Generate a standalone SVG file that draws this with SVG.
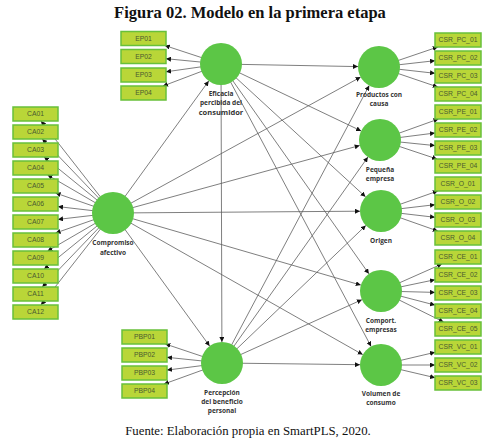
<svg xmlns="http://www.w3.org/2000/svg" width="496" height="447" viewBox="0 0 496 447">
<style>
.bx{fill:#b9d638;stroke:#68c03a;stroke-width:1.5}
.bt{font-family:"Liberation Sans",Arial,sans-serif;font-size:6.8px;fill:#4a5a30;text-anchor:middle}
.cr{fill:#5cc646}
.lb{font-family:"Open Sans","Liberation Sans",sans-serif;font-size:6.5px;font-weight:bold;fill:#333;text-anchor:middle}
.ln{stroke:#5e5e5e;stroke-width:0.8;fill:none;marker-end:url(#ah)}
.ttl{font-family:"Liberation Serif","Times New Roman",serif;font-weight:bold;font-size:16.5px;text-anchor:middle;fill:#111}
.ft{font-family:"Liberation Serif","Times New Roman",serif;font-size:12.8px;text-anchor:middle;fill:#111}
</style>
<defs>
<marker id="ah" viewBox="0 0 10 10" refX="10" refY="5" markerWidth="5" markerHeight="5" orient="auto" markerUnits="userSpaceOnUse">
<path d="M0,0L10,5L0,10z" fill="#111"/>
</marker>
</defs>
<rect width="496" height="447" fill="#fff"/>
<text class="ttl" x="250" y="18">Figura 02. Modelo en la primera etapa</text>
<g id="connectors">
<line class="ln" x1="113" y1="213" x2="208.7" y2="81"/>
<line class="ln" x1="113" y1="213" x2="360.6" y2="77.1"/>
<line class="ln" x1="113" y1="213" x2="359.7" y2="145.5"/>
<line class="ln" x1="113" y1="213" x2="360" y2="211.2"/>
<line class="ln" x1="113" y1="213" x2="360.8" y2="285.1"/>
<line class="ln" x1="113" y1="213" x2="362.7" y2="354.6"/>
<line class="ln" x1="113" y1="213" x2="209.6" y2="346"/>
<line class="ln" x1="221" y1="64" x2="358" y2="66.6"/>
<line class="ln" x1="221" y1="64" x2="361.1" y2="130.9"/>
<line class="ln" x1="221" y1="64" x2="365.5" y2="196.8"/>
<line class="ln" x1="221" y1="64" x2="368.9" y2="273.8"/>
<line class="ln" x1="221" y1="64" x2="371.1" y2="346.5"/>
<line class="ln" x1="221" y1="64" x2="221.9" y2="342"/>
<line class="ln" x1="222" y1="363" x2="369.2" y2="85.5"/>
<line class="ln" x1="222" y1="363" x2="367.9" y2="157.1"/>
<line class="ln" x1="222" y1="363" x2="365.8" y2="225.5"/>
<line class="ln" x1="222" y1="363" x2="361.9" y2="299.7"/>
<line class="ln" x1="222" y1="363" x2="360" y2="364.7"/>
<line class="ln" x1="221" y1="64" x2="164.8" y2="45.5"/>
<line class="ln" x1="221" y1="64" x2="166" y2="58.7"/>
<line class="ln" x1="221" y1="64" x2="166" y2="71.8"/>
<line class="ln" x1="221" y1="64" x2="163" y2="86"/>
<line class="ln" x1="113" y1="213" x2="41" y2="121"/>
<line class="ln" x1="113" y1="213" x2="42.2" y2="139"/>
<line class="ln" x1="113" y1="213" x2="44.1" y2="157"/>
<line class="ln" x1="113" y1="213" x2="47.6" y2="175"/>
<line class="ln" x1="113" y1="213" x2="55.6" y2="193"/>
<line class="ln" x1="113" y1="213" x2="58" y2="206.6"/>
<line class="ln" x1="113" y1="213" x2="58" y2="219.4"/>
<line class="ln" x1="113" y1="213" x2="55.6" y2="233"/>
<line class="ln" x1="113" y1="213" x2="47.6" y2="251"/>
<line class="ln" x1="113" y1="213" x2="44.1" y2="269"/>
<line class="ln" x1="113" y1="213" x2="42.2" y2="287"/>
<line class="ln" x1="113" y1="213" x2="41" y2="305"/>
<line class="ln" x1="222" y1="363" x2="165.4" y2="344"/>
<line class="ln" x1="222" y1="363" x2="167" y2="357.3"/>
<line class="ln" x1="222" y1="363" x2="167" y2="370.1"/>
<line class="ln" x1="222" y1="363" x2="164" y2="384"/>
<line class="ln" x1="379" y1="67" x2="437.8" y2="47"/>
<line class="ln" x1="379" y1="67" x2="435" y2="60.7"/>
<line class="ln" x1="379" y1="67" x2="435" y2="73.3"/>
<line class="ln" x1="379" y1="67" x2="437.8" y2="87"/>
<line class="ln" x1="380" y1="140" x2="438.5" y2="119"/>
<line class="ln" x1="380" y1="140" x2="435" y2="133"/>
<line class="ln" x1="380" y1="140" x2="435" y2="145.6"/>
<line class="ln" x1="380" y1="140" x2="437" y2="159"/>
<line class="ln" x1="381" y1="211" x2="437.8" y2="191"/>
<line class="ln" x1="381" y1="211" x2="435" y2="204.7"/>
<line class="ln" x1="381" y1="211" x2="435" y2="217.3"/>
<line class="ln" x1="381" y1="211" x2="437.8" y2="231"/>
<line class="ln" x1="381" y1="291" x2="441.9" y2="264"/>
<line class="ln" x1="381" y1="291" x2="435" y2="279.7"/>
<line class="ln" x1="381" y1="291" x2="435" y2="292.4"/>
<line class="ln" x1="381" y1="291" x2="435" y2="305.1"/>
<line class="ln" x1="381" y1="291" x2="443.6" y2="322"/>
<line class="ln" x1="381" y1="365" x2="435" y2="352.3"/>
<line class="ln" x1="381" y1="365" x2="435" y2="365"/>
<line class="ln" x1="381" y1="365" x2="435" y2="377.7"/>
</g>
<g id="EP01"><rect class="bx" x="121" y="31.5" width="45" height="14"/><text class="bt" x="143.5" y="40.9">EP01</text></g>
<g id="EP02"><rect class="bx" x="121" y="49.5" width="45" height="14"/><text class="bt" x="143.5" y="58.9">EP02</text></g>
<g id="EP03"><rect class="bx" x="121" y="68" width="45" height="14"/><text class="bt" x="143.5" y="77.4">EP03</text></g>
<g id="EP04"><rect class="bx" x="121" y="86" width="45" height="14"/><text class="bt" x="143.5" y="95.4">EP04</text></g>
<g id="CA01"><rect class="bx" x="13" y="107" width="45" height="14"/><text class="bt" x="35.5" y="116.4">CA01</text></g>
<g id="CA02"><rect class="bx" x="13" y="125" width="45" height="14"/><text class="bt" x="35.5" y="134.4">CA02</text></g>
<g id="CA03"><rect class="bx" x="13" y="143" width="45" height="14"/><text class="bt" x="35.5" y="152.4">CA03</text></g>
<g id="CA04"><rect class="bx" x="13" y="161" width="45" height="14"/><text class="bt" x="35.5" y="170.4">CA04</text></g>
<g id="CA05"><rect class="bx" x="13" y="179" width="45" height="14"/><text class="bt" x="35.5" y="188.4">CA05</text></g>
<g id="CA06"><rect class="bx" x="13" y="197" width="45" height="14"/><text class="bt" x="35.5" y="206.4">CA06</text></g>
<g id="CA07"><rect class="bx" x="13" y="215" width="45" height="14"/><text class="bt" x="35.5" y="224.4">CA07</text></g>
<g id="CA08"><rect class="bx" x="13" y="233" width="45" height="14"/><text class="bt" x="35.5" y="242.4">CA08</text></g>
<g id="CA09"><rect class="bx" x="13" y="251" width="45" height="14"/><text class="bt" x="35.5" y="260.4">CA09</text></g>
<g id="CA10"><rect class="bx" x="13" y="269" width="45" height="14"/><text class="bt" x="35.5" y="278.4">CA10</text></g>
<g id="CA11"><rect class="bx" x="13" y="287" width="45" height="14"/><text class="bt" x="35.5" y="296.4">CA11</text></g>
<g id="CA12"><rect class="bx" x="13" y="305" width="45" height="14"/><text class="bt" x="35.5" y="314.4">CA12</text></g>
<g id="PBP01"><rect class="bx" x="122" y="330" width="45" height="14"/><text class="bt" x="144.5" y="339.4">PBP01</text></g>
<g id="PBP02"><rect class="bx" x="122" y="348" width="45" height="14"/><text class="bt" x="144.5" y="357.4">PBP02</text></g>
<g id="PBP03"><rect class="bx" x="122" y="366" width="45" height="14"/><text class="bt" x="144.5" y="375.4">PBP03</text></g>
<g id="PBP04"><rect class="bx" x="122" y="384" width="45" height="14"/><text class="bt" x="144.5" y="393.4">PBP04</text></g>
<g id="CSR_PC_01"><rect class="bx" x="435" y="33" width="46" height="14"/><text class="bt" x="458" y="42.4">CSR_PC_01</text></g>
<g id="CSR_PC_02"><rect class="bx" x="435" y="51" width="46" height="14"/><text class="bt" x="458" y="60.4">CSR_PC_02</text></g>
<g id="CSR_PC_03"><rect class="bx" x="435" y="69" width="46" height="14"/><text class="bt" x="458" y="78.4">CSR_PC_03</text></g>
<g id="CSR_PC_04"><rect class="bx" x="435" y="87" width="46" height="14"/><text class="bt" x="458" y="96.4">CSR_PC_04</text></g>
<g id="CSR_PE_01"><rect class="bx" x="435" y="105" width="46" height="14"/><text class="bt" x="458" y="114.4">CSR_PE_01</text></g>
<g id="CSR_PE_02"><rect class="bx" x="435" y="123" width="46" height="14"/><text class="bt" x="458" y="132.4">CSR_PE_02</text></g>
<g id="CSR_PE_03"><rect class="bx" x="435" y="141" width="46" height="14"/><text class="bt" x="458" y="150.4">CSR_PE_03</text></g>
<g id="CSR_PE_04"><rect class="bx" x="435" y="159" width="46" height="14"/><text class="bt" x="458" y="168.4">CSR_PE_04</text></g>
<g id="CSR_O_01"><rect class="bx" x="435" y="177" width="46" height="14"/><text class="bt" x="458" y="186.4">CSR_O_01</text></g>
<g id="CSR_O_02"><rect class="bx" x="435" y="195" width="46" height="14"/><text class="bt" x="458" y="204.4">CSR_O_02</text></g>
<g id="CSR_O_03"><rect class="bx" x="435" y="213" width="46" height="14"/><text class="bt" x="458" y="222.4">CSR_O_03</text></g>
<g id="CSR_O_04"><rect class="bx" x="435" y="231" width="46" height="14"/><text class="bt" x="458" y="240.4">CSR_O_04</text></g>
<g id="CSR_CE_01"><rect class="bx" x="435" y="250" width="46" height="14"/><text class="bt" x="458" y="259.4">CSR_CE_01</text></g>
<g id="CSR_CE_02"><rect class="bx" x="435" y="268" width="46" height="14"/><text class="bt" x="458" y="277.4">CSR_CE_02</text></g>
<g id="CSR_CE_03"><rect class="bx" x="435" y="286" width="46" height="14"/><text class="bt" x="458" y="295.4">CSR_CE_03</text></g>
<g id="CSR_CE_04"><rect class="bx" x="435" y="304" width="46" height="14"/><text class="bt" x="458" y="313.4">CSR_CE_04</text></g>
<g id="CSR_CE_05"><rect class="bx" x="435" y="322" width="46" height="14"/><text class="bt" x="458" y="331.4">CSR_CE_05</text></g>
<g id="CSR_VC_01"><rect class="bx" x="435" y="340" width="46" height="14"/><text class="bt" x="458" y="349.4">CSR_VC_01</text></g>
<g id="CSR_VC_02"><rect class="bx" x="435" y="358" width="46" height="14"/><text class="bt" x="458" y="367.4">CSR_VC_02</text></g>
<g id="CSR_VC_03"><rect class="bx" x="435" y="376" width="46" height="14"/><text class="bt" x="458" y="385.4">CSR_VC_03</text></g>
<g id="eficacia"><circle class="cr" cx="221" cy="64" r="21"/><text class="lb" x="221" y="96">Eficacia</text><text class="lb" x="221" y="105">percibida del</text><text class="lb" x="221" y="115" style="font-size:7.5px">consumidor</text></g>
<g id="compromiso"><circle class="cr" cx="113" cy="213" r="21"/><text class="lb" x="113" y="245">Compromiso</text><text class="lb" x="113" y="255">afectivo</text></g>
<g id="percepcion"><circle class="cr" cx="222" cy="363" r="21"/><text class="lb" x="222" y="395">Percepción</text><text class="lb" x="222" y="404">del beneficio</text><text class="lb" x="222" y="413">personal</text></g>
<g id="productos"><circle class="cr" cx="379" cy="67" r="21"/><text class="lb" x="379" y="97">Productos con</text><text class="lb" x="379" y="106">causa</text></g>
<g id="pequena"><circle class="cr" cx="380" cy="140" r="21"/><text class="lb" x="380" y="172">Pequeña</text><text class="lb" x="380" y="181">empresa</text></g>
<g id="origen"><circle class="cr" cx="381" cy="211" r="21"/><text class="lb" x="381" y="243">Origen</text></g>
<g id="comport"><circle class="cr" cx="381" cy="291" r="21"/><text class="lb" x="381" y="323">Comport.</text><text class="lb" x="381" y="332">empresas</text></g>
<g id="volumen"><circle class="cr" cx="381" cy="365" r="21"/><text class="lb" x="381" y="396">Volumen de</text><text class="lb" x="381" y="405">consumo</text></g>
<text class="ft" x="248" y="435">Fuente: Elaboración propia en SmartPLS, 2020.</text>
</svg>
